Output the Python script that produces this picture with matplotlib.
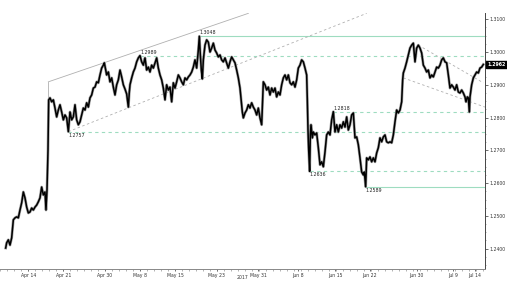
import matplotlib
matplotlib.use("Agg")
import matplotlib.pyplot as plt
from matplotlib.ticker import FixedLocator, MultipleLocator
import matplotlib.transforms as mtransforms

# time axis: trading-hour index
t = [17, 20, 25, 30, 35, 40, 45, 50, 55, 60, 65, 70, 75, 80, 85, 90, 95, 100, 105, 110,
     115, 120, 125, 130, 135, 138, 141, 144, 146,
     150, 155, 160, 165, 170, 175, 180, 185, 190, 195, 200, 205, 210, 215, 220, 225, 230,
     235, 240, 245, 250, 255, 260, 265, 270, 275, 280, 285, 290, 295, 300, 305, 310, 313,
     320, 325, 330, 335, 340, 345, 350, 355, 360, 365, 370, 375, 380, 385, 388,
     390, 395, 400, 405, 410, 415, 420, 425, 430, 435, 440, 445, 450, 455, 460, 465, 470,
     475, 480, 485, 490, 495, 500, 505, 510, 515, 520, 525, 530, 535, 540, 545, 550, 555,
     560, 565, 570, 575, 580, 585, 590, 595, 598, 601, 604, 607, 610,
     615, 620, 625, 630, 635, 640, 645, 650, 655, 660, 665, 670, 675, 680, 685, 690, 695,
     700, 705, 710, 715, 720, 723, 727, 730, 735, 740, 745, 750, 755, 760, 765, 770, 775,
     780, 785, 788, 790, 795, 800, 805, 810, 815, 820, 825, 830, 835, 840, 845, 850, 855,
     860, 865, 870, 875, 880, 885,
     890, 895, 900, 905, 910, 915, 920, 922, 924, 926, 929, 931, 933, 937, 940, 945, 950,
     955, 960, 965, 970, 975, 980, 985, 990, 995, 1000, 1005, 1010, 1015, 1020, 1025, 1030,
     1035, 1040, 1045, 1050, 1055, 1060, 1065, 1070, 1075, 1080, 1085, 1090, 1093, 1097,
     1100, 1105, 1110, 1115, 1120, 1125, 1130, 1135, 1140, 1145, 1150, 1155, 1160, 1165,
     1170, 1175, 1180, 1185, 1190, 1195, 1200, 1205, 1208,
     1210, 1215, 1220, 1225, 1230, 1235, 1240, 1243, 1245, 1250, 1255, 1260, 1265, 1270,
     1275, 1280, 1285, 1290, 1295, 1300, 1305, 1310, 1315, 1320, 1325, 1330, 1335, 1340,
     1345, 1350, 1355, 1360, 1365, 1370, 1375, 1380, 1385, 1390, 1395, 1398, 1402, 1405,
     1408, 1410, 1415, 1420, 1425, 1430, 1435, 1440, 1445, 1450]

price = [1.2402, 1.2418, 1.2427, 1.2411, 1.2433, 1.2488, 1.2494, 1.2497, 1.2494, 1.2518,
         1.2540, 1.2573, 1.2555, 1.2527, 1.2509, 1.2512, 1.2524, 1.2518, 1.2527, 1.2533,
         1.2543, 1.2555, 1.2588, 1.2564, 1.2573, 1.2518, 1.2579, 1.2701, 1.2854,
         1.2860, 1.2848, 1.2854, 1.2829, 1.2802, 1.2823, 1.2839, 1.2817, 1.2793, 1.2808,
         1.2799, 1.2757, 1.2817, 1.2793, 1.2802, 1.2839, 1.2793, 1.2778, 1.2787, 1.2808,
         1.2829, 1.2823, 1.2845, 1.2832, 1.2860, 1.2869, 1.2890, 1.2893, 1.2909, 1.2906,
         1.2930, 1.2951, 1.2960, 1.2967, 1.2930, 1.2939, 1.2909, 1.2921, 1.2893, 1.2869,
         1.2900, 1.2915, 1.2945, 1.2924, 1.2900, 1.2887, 1.2872, 1.2832, 1.2878,
         1.2900, 1.2921, 1.2939, 1.2951, 1.2970, 1.2982, 1.2989, 1.2970, 1.2960, 1.2982,
         1.2945, 1.2954, 1.2939, 1.2960, 1.2951, 1.2967, 1.2982, 1.2951, 1.2930, 1.2915,
         1.2890, 1.2854, 1.2900, 1.2884, 1.2893, 1.2848, 1.2906, 1.2890, 1.2909, 1.2930,
         1.2921, 1.2909, 1.2900, 1.2921, 1.2915, 1.2924, 1.2930, 1.2939, 1.2954, 1.2976,
         1.2951, 1.3006, 1.3048, 1.2991, 1.2945, 1.2918, 1.2976,
         1.3021, 1.3037, 1.3030, 1.3000, 1.3012, 1.3027, 1.3006, 1.2997, 1.2985, 1.2991,
         1.2976, 1.2970, 1.2982, 1.2967, 1.2951, 1.2970, 1.2985, 1.2976, 1.2967, 1.2945,
         1.2921, 1.2890, 1.2860, 1.2817, 1.2799, 1.2814, 1.2823, 1.2839, 1.2829, 1.2845,
         1.2832, 1.2823, 1.2808, 1.2829, 1.2799, 1.2778, 1.2854, 1.2909, 1.2900, 1.2884,
         1.2893, 1.2869, 1.2890, 1.2878, 1.2890, 1.2863, 1.2878, 1.2869, 1.2900, 1.2921,
         1.2930, 1.2915, 1.2930, 1.2906, 1.2900, 1.2909, 1.2893,
         1.2915, 1.2951, 1.2960, 1.2976, 1.2970, 1.2951, 1.2930, 1.2854, 1.2762, 1.2701,
         1.2636, 1.2747, 1.2778, 1.2738, 1.2756, 1.2747, 1.2753, 1.2708, 1.2656, 1.2665,
         1.2650, 1.2695, 1.2747, 1.2756, 1.2747, 1.2793, 1.2818, 1.2756, 1.2778, 1.2756,
         1.2778, 1.2768, 1.2787, 1.2771, 1.2802, 1.2762, 1.2778, 1.2808, 1.2814, 1.2738,
         1.2741, 1.2717, 1.2677, 1.2634, 1.2625, 1.2634, 1.2589,
         1.2677, 1.2671, 1.2680, 1.2665, 1.2677, 1.2665, 1.2692, 1.2708, 1.2738, 1.2726,
         1.2741, 1.2747, 1.2726, 1.2723, 1.2726, 1.2723, 1.2747, 1.2787, 1.2823, 1.2814,
         1.2823, 1.2848, 1.2915,
         1.2936, 1.2951, 1.2970, 1.2991, 1.3012, 1.3021, 1.3027, 1.2991, 1.2970, 1.3012,
         1.3021, 1.3012, 1.2997, 1.2960, 1.2951, 1.2939, 1.2945, 1.2921, 1.2930, 1.2924,
         1.2939, 1.2954, 1.2951, 1.2960, 1.2976, 1.2982, 1.2970, 1.2967, 1.2930, 1.2890,
         1.2900, 1.2893, 1.2884, 1.2900, 1.2878, 1.2875, 1.2884, 1.2875, 1.2863, 1.2848,
         1.2863, 1.2860, 1.2817, 1.2863, 1.2900, 1.2921, 1.2930, 1.2939, 1.2936, 1.2951,
         1.2954, 1.2962]

tick_pos = [85, 190, 315, 420, 525, 650, 775, 895, 1005, 1110, 1250, 1360, 1425]
tick_labels = ["Apr 14", "Apr 21", "Apr 30", "May 8", "May 15", "May 23", "May 31",
               "Jun 8", "Jun 15", "Jun 22", "Jun 30", "Jul 9", "Jul 14"]
ytick_vals = [1.2400, 1.2500, 1.2600, 1.2700, 1.2800, 1.2900, 1.3000, 1.3100]

# key levels: (value, start index, style, label side)
levels = [(1.3048, 598, "solid", "above"),
          (1.2989, 420, "dashed", "above"),
          (1.2818, 1000, "dashed", "above"),
          (1.2757, 205, "dashed", "below"),
          (1.2636, 929, "dashed", "below"),
          (1.2589, 1097, "solid", "below")]

# trend lines: (t0, p0, t1, p1, style)
trends = [(145, 1.2909, 745, 1.3118, "solid"),
          (205, 1.2757, 1100, 1.3118, "dashed"),
          (1255, 1.3021, 1450, 1.2906, "dashed"),
          (1210, 1.2921, 1455, 1.2832, "dashed")]
last_price = 1.2962

green = "#9edcc0"
grey = "#b0b0b0"

fig = plt.figure(figsize=(5.07, 2.81), dpi=100)
ax = fig.add_axes([0.0, 0.0427, 0.9566, 0.9110])
ax.set_xlim(0, 1455)
ax.set_ylim(1.2338, 1.3119)

for v, t0, ls, side in levels:
    ax.plot([t0, 1455], [v, v], color=green, lw=0.8,
            linestyle=(0, (3, 3)) if ls == "dashed" else "-", zorder=1)
    ax.text(t0, v + (0.0003 if side == "above" else -0.0003), f"{v:.4f}",
            fontsize=3.4, va="bottom" if side == "above" else "top", ha="left",
            color="#222222", zorder=4)

for t0, p0, t1, p1, ls in trends:
    ax.plot([t0, t1], [p0, p1], color=grey, lw=0.6,
            linestyle=(0, (3, 3)) if ls == "dashed" else "-", zorder=1)
ax.plot([145, 145], [1.2909, 1.2860], color=grey, lw=0.6, zorder=1)

ax.plot(t, price, color="#a0a0a0", lw=2.0, zorder=2)
ax.plot(t, price, color="black", lw=1.1, zorder=3)

for s in ["top", "left"]:
    ax.spines[s].set_visible(False)
ax.spines["right"].set_color("#444444")
ax.spines["bottom"].set_color("#888888")
ax.spines["right"].set_linewidth(0.7)
ax.spines["bottom"].set_linewidth(0.7)

ax.yaxis.tick_right()
ax.yaxis.set_major_locator(FixedLocator(ytick_vals))
ax.set_yticklabels([f"{v:.4f}" for v in ytick_vals])
ax.yaxis.set_minor_locator(MultipleLocator(0.0025))
ax.tick_params(axis="y", which="major", labelsize=3.3, length=2, width=0.5, pad=1,
               colors="#333333")
ax.tick_params(axis="y", which="minor", length=1, width=0.4, colors="#666666")

ax.xaxis.set_major_locator(FixedLocator(tick_pos))
ax.set_xticklabels(tick_labels)
ax.xaxis.set_minor_locator(MultipleLocator(21))
ax.tick_params(axis="x", which="major", labelsize=3.3, length=1.5, width=0.5, pad=1.5,
               colors="#333333")
ax.tick_params(axis="x", which="minor", length=1.2, width=0.4, colors="#777777")

trans = mtransforms.blended_transform_factory(ax.transData, ax.transAxes)
ax.text(728, -0.034, "2017", transform=trans, fontsize=3.3, ha="center", va="center",
        color="#333333")

ax.annotate(f"{last_price:.4f}", xy=(1.0, last_price), xycoords=("axes fraction", "data"),
            xytext=(1.5, 0), textcoords="offset points", fontsize=3.4, color="white",
            va="center", ha="left", fontweight="bold",
            bbox=dict(boxstyle="square,pad=0.3", fc="black", ec="black"))

fig.savefig("out.png", dpi=100)
